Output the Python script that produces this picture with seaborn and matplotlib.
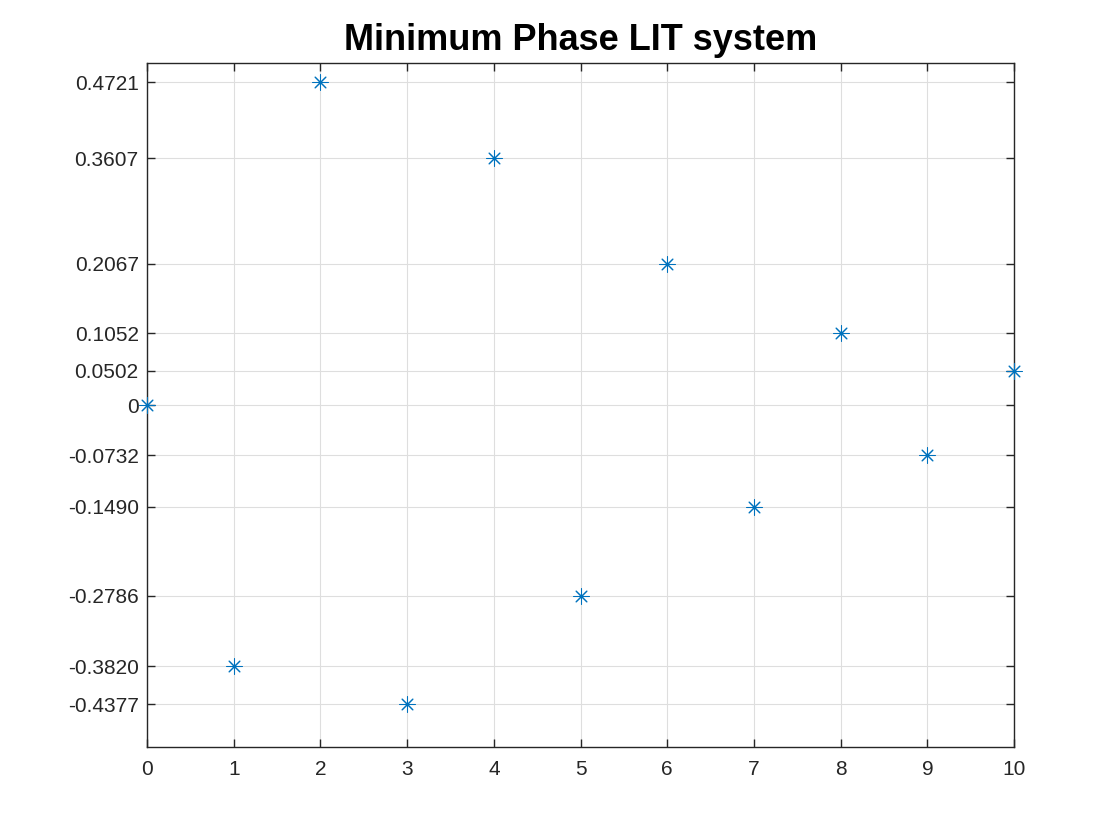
import matplotlib
matplotlib.use("Agg")
import matplotlib.pyplot as plt
import seaborn as sns
import pandas as pd

n_values = [0, 1, 2, 3, 4, 5, 6, 7, 8, 9, 10]
h_values = [0.0, -0.3820, 0.4721, -0.4377, 0.3607, -0.2786, 0.2067, -0.1490, 0.1052, -0.0732, 0.0502]
ytick_values = sorted(set(h_values))
ytick_labels = ["0" if v == 0 else f"{v:.4f}" for v in ytick_values]
title_text = "Minimum Phase LIT system"

sns.set_theme(style="white")
plt.rcParams["font.family"] = ["Liberation Sans", "DejaVu Sans"]

df = pd.DataFrame({"n": n_values, "h": h_values})

fig = plt.figure(figsize=(11.2, 8.4), dpi=100)
ax = fig.add_axes([0.1313, 0.1107, 0.7741, 0.8143])

sns.scatterplot(data=df, x="n", y="h", ax=ax, marker=(8, 2, 0), s=120,
                color="#0072BD", edgecolor="#0072BD", linewidth=0.75,
                zorder=3, clip_on=False)

ax.set_xlim(0, 10)
ax.set_ylim(-0.5, 0.5)
ax.set_xticks(range(0, 11))
ax.set_yticks(ytick_values)
ax.set_yticklabels(ytick_labels)
ax.set_xlabel("")
ax.set_ylabel("")
ax.grid(True, color="#dedede", linewidth=0.8)
ax.set_axisbelow(True)
for s in ax.spines.values():
    s.set_color("#262626")
    s.set_linewidth(1.0)
    s.set_visible(True)
ax.tick_params(direction="in", length=6, width=1.0, color="#262626",
               labelsize=15, labelcolor="#262626", pad=6,
               top=True, right=True, bottom=True, left=True)
ax.tick_params(axis="x", pad=9)
ax.set_title(title_text, fontsize=26, fontweight="bold", pad=9, color="black")

fig.savefig("out.png", dpi=100)
